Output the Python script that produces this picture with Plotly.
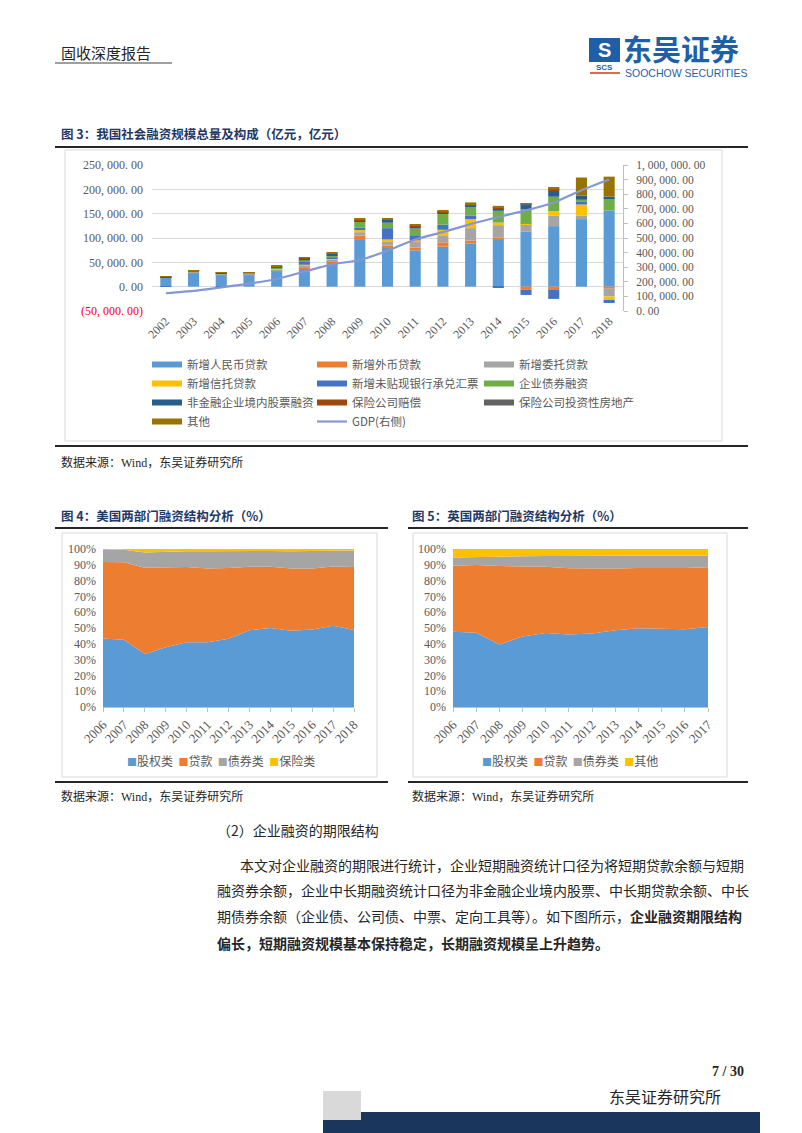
import plotly.graph_objects as go

W, H = 802, 1133
def px(x): return x / W
def py(y): return 1 - y / H

# ---------------- Figure 3 data (亿元) ----------------
years3 = [str(y) for y in range(2002, 2019)]
rmb_loans = [18475, 27652, 22673, 23544, 31523, 36323, 49041, 95942, 79451, 74715, 82038, 88917, 97813, 112693, 124372, 138432, 156712]
fx_loans = [731, 2285, 1381, 1415, 1459, 3864, 1947, 9265, 4855, 5712, 9163, 5848, 3554, -6427, -5640, 18, -4201]
entrusted = [175, 601, 3118, 1961, 2695, 3371, 4262, 6780, 8748, 12962, 12838, 25466, 25070, 15911, 21854, 7770, -16067]
trust = [0, 0, 0, 0, 825, 1702, 3144, 4364, 3865, 2034, 12845, 18404, 5174, 434, 8593, 22555, -6901]
bank_accept = [-695, 2010, -290, 24, 1500, 6701, 1064, 4606, 23346, 10271, 10499, 7756, -1286, -10569, -19514, 5364, -6343]
corp_bonds = [367, 499, 467, 2010, 2310, 2284, 5523, 12367, 11063, 13658, 22551, 18111, 24253, 29388, 29993, 4421, 24756]
equity_fin = [628, 559, 673, 339, 1536, 4333, 3324, 3350, 5786, 4377, 2508, 2219, 4350, 7590, 12416, 8759, 3606]
ins_comp = [190, 270, 300, 350, 450, 600, 800, 1300, 1500, 1800, 2200, 2500, 2800, 3200, 3300, 0, 0]
ins_realestate = [0, 0, 0, 0, 0, 0, 0, 0, 0, 0, 120, 400, 500, 700, 800, 0, 0]
others = [241, 237, 307, 365, 398, 485, 697, 1130, 1577, 2757, 2869, 3548, 2545, 1166, 1900, 37000, 41000]
gdp = [121717, 137422, 161840, 187319, 219439, 270232, 319516, 349081, 413030, 489301, 540367, 595244, 643974, 689052, 743586, 827122, 900309]

names3 = ["新增人民币贷款", "新增外币贷款", "新增委托贷款", "新增信托贷款", "新增未贴现银行承兑汇票",
          "企业债券融资", "非金融企业境内股票融资", "保险公司赔偿", "保险公司投资性房地产", "其他"]
colors3 = ["#5B9BD5", "#ED7D31", "#A5A5A5", "#FFC000", "#4472C4", "#70AD47", "#255E91", "#9E480E", "#636363", "#997300"]
values3 = [rmb_loans, fx_loans, entrusted, trust, bank_accept, corp_bonds, equity_fin, ins_comp, ins_realestate, others]
gdp_name = "GDP(右侧)"
gdp_color = "#8497D2"

left_ticks = [-50000, 0, 50000, 100000, 150000, 200000, 250000]
left_text = ["<span style='color:#FF0000'>(50, 000. 00)</span>", "0. 00", "50, 000. 00", "100, 000. 00",
             "150, 000. 00", "200, 000. 00", "250, 000. 00"]
right_ticks = [0, 100000, 200000, 300000, 400000, 500000, 600000, 700000, 800000, 900000, 1000000]
right_text = ["0. 00", "100, 000. 00", "200, 000. 00", "300, 000. 00", "400, 000. 00", "500, 000. 00",
              "600, 000. 00", "700, 000. 00", "800, 000. 00", "900, 000. 00", "1, 000, 000. 00"]

# ---------------- Figure 4 data (US, %) ----------------
years4 = list(range(2006, 2019))
us_equity = [43.3, 42.5, 33.5, 37.8, 41.0, 41.0, 43.2, 48.5, 50.0, 48.3, 49.0, 51.5, 48.8]
us_loans = [48.5, 49.1, 54.7, 50.8, 47.6, 46.7, 44.7, 40.2, 38.7, 39.4, 38.7, 37.5, 39.8]
us_bonds = [8.1, 8.0, 9.6, 9.7, 9.9, 10.9, 10.9, 9.9, 10.1, 10.9, 11.0, 10.2, 10.4]
us_insurance = [0.1, 0.4, 2.2, 1.7, 1.5, 1.4, 1.2, 1.4, 1.2, 1.4, 1.3, 0.8, 1.0]
names4 = ["股权类", "贷款", "债券类", "保险类"]

# ---------------- Figure 5 data (UK, %) ----------------
years5 = list(range(2006, 2018))
uk_equity = [47.6, 47.0, 39.5, 44.6, 46.9, 45.9, 46.5, 48.5, 49.8, 49.6, 49.2, 50.6]
uk_loans = [41.8, 42.8, 49.7, 44.2, 41.9, 41.9, 41.2, 39.2, 38.2, 38.4, 38.8, 37.9]
uk_bonds = [5.2, 5.2, 5.9, 6.6, 6.7, 7.9, 7.9, 8.0, 7.7, 7.6, 7.6, 7.3]
uk_other = [5.4, 5.0, 4.9, 4.6, 4.5, 4.3, 4.4, 4.3, 4.3, 4.4, 4.4, 4.2]
names5 = ["股权类", "贷款", "债券类", "其他"]

area_colors = ["#5B9BD5", "#ED7D31", "#A5A5A5", "#FFC000"]

pct_ticks = list(range(0, 101, 10))
pct_text = [f"{v}%" for v in pct_ticks]

legend_ids = ["legend", "legend2", "legend3"]

fig = go.Figure()

# Figure 3 stacked bars (legend laid out in three columns, row-major order)
for i, (name, vals, col) in enumerate(zip(names3, values3, colors3)):
    fig.add_trace(go.Bar(x=years3, y=vals, name=name, marker=dict(color=col, line=dict(width=0)),
                         xaxis="x", yaxis="y", showlegend=False))
    fig.add_trace(go.Scatter(x=[None], y=[None], mode="lines", name=name,
                             line=dict(color=col, width=6), xaxis="x", yaxis="y",
                             legend=legend_ids[i % 3]))
fig.add_trace(go.Scatter(x=years3, y=gdp, name=gdp_name, mode="lines",
                         line=dict(color=gdp_color, width=2.2, shape="spline", smoothing=0.6),
                         xaxis="x", yaxis="y2", legend=legend_ids[len(names3) % 3]))

# Figure 4 areas
for name, vals, col in zip(names4, [us_equity, us_loans, us_bonds, us_insurance], area_colors):
    fig.add_trace(go.Scatter(x=years4, y=vals, name=name, mode="lines", line=dict(width=0, color=col),
                             fillcolor=col, stackgroup="us", xaxis="x2", yaxis="y3", showlegend=False))
# Figure 5 areas
for name, vals, col in zip(names5, [uk_equity, uk_loans, uk_bonds, uk_other], area_colors):
    fig.add_trace(go.Scatter(x=years5, y=vals, name=name, mode="lines", line=dict(width=0, color=col),
                             fillcolor=col, stackgroup="uk", xaxis="x3", yaxis="y4", showlegend=False))

gray_txt = "#595959"
serif = "Liberation Serif"
cjk = "Noto Sans CJK SC"
tickfont3 = dict(family=serif, size=12, color=gray_txt)

def legend_col(x):
    return dict(x=px(x), y=py(350), xanchor="left", yanchor="top", orientation="v", itemwidth=30,
                font=dict(family=cjk, size=11.5, color=gray_txt), bgcolor="rgba(0,0,0,0)",
                traceorder="normal", tracegroupgap=0)

fig.update_layout(
    width=W, height=H, margin=dict(l=0, r=0, t=0, b=0, pad=0, autoexpand=False),
    paper_bgcolor="white", plot_bgcolor="rgba(0,0,0,0)",
    barmode="relative", bargap=0.6,
    xaxis=dict(domain=[px(152), px(623)], anchor="y", type="category", tickangle=-45, automargin=False,
               tickfont=tickfont3, showgrid=False, showline=False, ticks="", zeroline=False),
    yaxis=dict(domain=[py(311), py(165)], range=[-50000, 250000], tickvals=left_ticks, ticktext=left_text,
               tickfont=tickfont3, gridcolor="#D9D9D9", gridwidth=1, zeroline=False, showline=False,
               ticks="", ticklabelstandoff=8, automargin=False),
    yaxis2=dict(overlaying="y", side="right", anchor="x", range=[0, 1000000], tickvals=right_ticks,
                ticktext=right_text, tickfont=dict(family=serif, size=11.5, color=gray_txt), showgrid=False,
                zeroline=False, showline=True, linecolor="#BFBFBF", ticks="outside", ticklen=4,
                tickcolor="#BFBFBF", ticklabelstandoff=6, automargin=False),
    xaxis2=dict(domain=[px(103), px(354)], anchor="y3", range=[2006, 2018], tickvals=years4,
                tickangle=-45, tickfont=dict(family=serif, size=13, color=gray_txt), showgrid=False,
                showline=True, linecolor="#BFBFBF", ticks="outside", ticklen=4, tickcolor="#BFBFBF",
                zeroline=False, automargin=False),
    yaxis3=dict(domain=[py(707), py(549)], anchor="x2", range=[0, 100], tickvals=pct_ticks, ticktext=pct_text,
                tickfont=dict(family=serif, size=12, color=gray_txt), showgrid=False, zeroline=False,
                showline=False, ticklabelstandoff=6, automargin=False),
    xaxis3=dict(domain=[px(453), px(708)], anchor="y4", range=[2006, 2017], tickvals=years5,
                tickangle=-45, tickfont=dict(family=serif, size=13, color=gray_txt), showgrid=False,
                showline=True, linecolor="#BFBFBF", ticks="outside", ticklen=4, tickcolor="#BFBFBF",
                zeroline=False, automargin=False),
    yaxis4=dict(domain=[py(707), py(549)], anchor="x3", range=[0, 100], tickvals=pct_ticks, ticktext=pct_text,
                tickfont=dict(family=serif, size=12, color=gray_txt), showgrid=False, zeroline=False,
                showline=False, ticklabelstandoff=6, automargin=False),
    legend=legend_col(147),
    legend2=legend_col(312),
    legend3=legend_col(479),
    showlegend=True,
)

shapes = []
def line(x0, y0, x1, y1, color="#262626", width=1.5):
    shapes.append(dict(type="line", xref="paper", yref="paper", x0=px(x0), y0=py(y0), x1=px(x1), y1=py(y1),
                       line=dict(color=color, width=width)))
def rect(x0, y0, x1, y1, line_color="#D9D9D9", fill="rgba(0,0,0,0)", width=1, layer="below"):
    shapes.append(dict(type="rect", xref="paper", yref="paper", x0=px(x0), y0=py(y0), x1=px(x1), y1=py(y1),
                       line=dict(color=line_color, width=width), fillcolor=fill, layer=layer))

# header
line(55, 63, 172, 63, "#404040", 1)
# logo icon
rect(589, 38, 620, 62, line_color="#1F5FA8", fill="#1F5FA8", width=0, layer="above")
line(590, 73, 620, 73, "#E03020", 1.5)
# chart 3 frame & lines
line(55, 147, 748, 147, "#262626", 2)
rect(65, 150, 722, 441)
line(55, 446, 748, 446, "#262626", 2)
# chart 4/5 frames & lines
line(55, 528, 388, 528, "#262626", 2)
line(408, 528, 748, 528, "#262626", 2)
rect(62, 533, 377, 777)
rect(413, 533, 727, 777)
line(55, 782, 388, 782, "#262626", 2)
line(408, 782, 748, 782, "#262626", 2)
# footer
rect(323, 1112, 760, 1133, line_color="#1B365D", fill="#1B365D", width=0, layer="above")
rect(323, 1091, 361, 1120, line_color="#D9D9D9", fill="#D9D9D9", width=0, layer="above")

annotations = []
def text(x, y, s, size=12, color="#262626", family=cjk, xanchor="left", yanchor="middle"):
    annotations.append(dict(x=px(x), y=py(y), xref="paper", yref="paper", text=s, showarrow=False,
                            xanchor=xanchor, yanchor=yanchor, font=dict(size=size, color=color, family=family),
                            borderpad=0))

text(60, 52, "固收深度报告", 15, "#262626")
text(604, 50, "<b>S</b>", 20, "white", "Liberation Sans", "center")
text(604, 68, "<b>SCS</b>", 8, "#1F5FA8", "Liberation Sans", "center")
text(622, 48, "<b>东吴证券</b>", 29, "#1F5FA8")
text(624, 73, "SOOCHOW SECURITIES", 10.5, "#1F5FA8", "Liberation Sans")

title_color = "#1F3864"
text(60, 133, "<b>图 3：我国社会融资规模总量及构成（亿元，亿元）</b>", 12.5, title_color)
text(60, 516, "<b>图 4：美国两部门融资结构分析（%）</b>", 12.5, title_color)
text(411, 516, "<b>图 5：英国两部门融资结构分析（%）</b>", 12.5, title_color)

src = "数据来源：Wind，东吴证券研究所"
mixed = serif + ", " + cjk
text(60, 462, src, 12, "#262626", mixed)
text(60, 796, src, 12, "#262626", mixed)
text(411, 796, src, 12, "#262626", mixed)

# legends for figure 4 / 5 built from names and colors
def legend_text(names):
    parts = [f"<span style='color:{c};font-size:10px'>■</span>{n}" for n, c in zip(names, area_colors)]
    return "  ".join(parts)
text(221, 760, legend_text(names4), 12, gray_txt, cjk, "center")
text(570, 760, legend_text(names5), 12, gray_txt, cjk, "center")

body = "#262626"
text(216, 830, "（2）企业融资的期限结构", 14, body)
text(239, 865, "本文对企业融资的期限进行统计，企业短期融资统计口径为将短期贷款余额与短期", 14, body)
text(216, 890, "融资券余额，企业中长期融资统计口径为非金融企业境内股票、中长期贷款余额、中长", 14, body)
text(216, 916, "期债券余额（企业债、公司债、中票、定向工具等）。如下图所示，<b>企业融资期限结构</b>", 14, body)
text(216, 943, "<b>偏长，短期融资规模基本保持稳定，长期融资规模呈上升趋势。</b>", 14, body)

text(745, 1071, "<b>7 / 30</b>", 14, "#262626", serif, "right")
text(722, 1096, "东吴证券研究所", 16, "#262626", cjk, "right")

fig.update_layout(shapes=shapes, annotations=annotations)
fig.write_html("out.html")
